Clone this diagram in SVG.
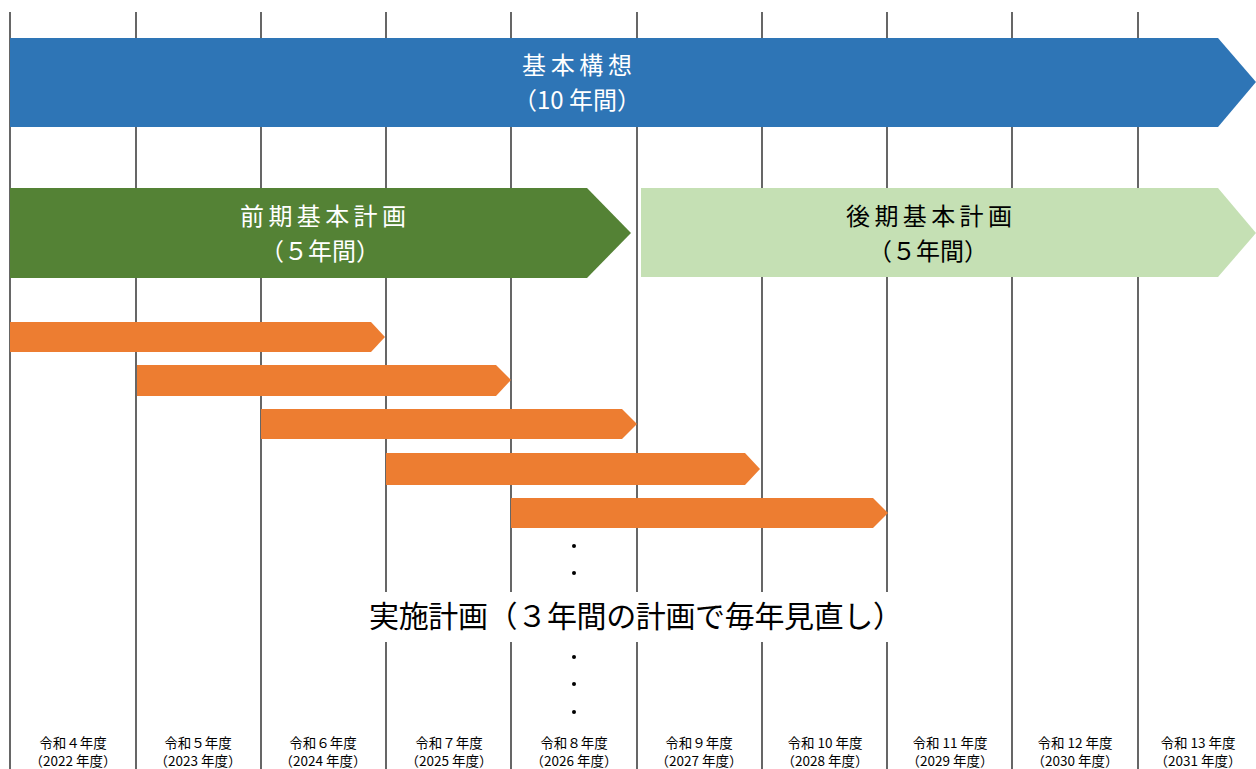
<svg xmlns="http://www.w3.org/2000/svg" width="1256" height="769" viewBox="0 0 1256 769">
<style>
.grid line{stroke:#000;stroke-width:1.2}
.t{font-family:"Noto Sans CJK JP","Noto Sans",sans-serif;text-anchor:middle}
.big{font-size:24px}
.mid{font-size:30px;fill:#000}
.lab{font-size:13.5px;fill:#000}
.w{fill:#fff}
.k{fill:#000}
.orange{fill:#ED7D31}
</style>
<rect width="1256" height="769" fill="#fff"/>
<g id="grid" class="grid">
<line x1="10" y1="12" x2="10" y2="769"/>
<line x1="136" y1="12" x2="136" y2="769"/>
<line x1="261" y1="12" x2="261" y2="769"/>
<line x1="386" y1="12" x2="386" y2="769"/>
<line x1="511" y1="12" x2="511" y2="769"/>
<line x1="637" y1="12" x2="637" y2="769"/>
<line x1="762" y1="12" x2="762" y2="769"/>
<line x1="887" y1="12" x2="887" y2="769"/>
<line x1="1012" y1="12" x2="1012" y2="769"/>
<line x1="1138" y1="12" x2="1138" y2="769"/>
</g>
<g id="connectors"></g>
<g id="kihon-koso">
<polygon points="10,38 1218,38 1256,82 1218,127 10,127" fill="#2E75B6"/>
<text class="t big w" x="577" y="74" textLength="110" lengthAdjust="spacing">基本構想</text>
<text class="t big w" x="577" y="109">（10 年間）</text>
</g>
<g id="zenki">
<polygon points="10,188 587,188 631,233 587,278 10,278" fill="#548235"/>
<text class="t big w" x="323" y="225" textLength="166" lengthAdjust="spacing">前期基本計画</text>
<text class="t big w" x="320" y="260">（５年間）</text>
</g>
<g id="koki">
<polygon points="641,188 1218,188 1256,233 1218,277 641,277" fill="#C5E0B4"/>
<text class="t big k" x="929" y="225" textLength="166" lengthAdjust="spacing">後期基本計画</text>
<text class="t big k" x="928" y="260">（５年間）</text>
</g>
<g id="jisshi-1"><polygon class="orange" points="10,322 371,322 385,337 371,352 10,352"/></g>
<g id="jisshi-2"><polygon class="orange" points="137,365 496,365 511,380 496,396 137,396"/></g>
<g id="jisshi-3"><polygon class="orange" points="261,409 622,409 637,424 622,439 261,439"/></g>
<g id="jisshi-4"><polygon class="orange" points="386,453 745,453 760,469 745,485 386,485"/></g>
<g id="jisshi-5"><polygon class="orange" points="511,498 873,498 888,513 873,528 511,528"/></g>
<g id="dots" fill="#000">
<circle cx="574" cy="546" r="2"/>
<circle cx="574" cy="573" r="2"/>
<circle cx="574" cy="657" r="2"/>
<circle cx="574" cy="684" r="2"/>
<circle cx="574" cy="712" r="2"/>
</g>
<g id="jisshi-label">
<rect x="362" y="592" width="546" height="50" fill="#fff"/>
<text class="t mid" x="636" y="627" textLength="534" lengthAdjust="spacing">実施計画（３年間の計画で毎年見直し）</text>
</g>
<g id="years">
<text class="t lab" x="73" y="748">令和４年度</text><text class="t lab" x="73" y="766">（2022 年度）</text>
<text class="t lab" x="198" y="748">令和５年度</text><text class="t lab" x="198" y="766">（2023 年度）</text>
<text class="t lab" x="323" y="748">令和６年度</text><text class="t lab" x="323" y="766">（2024 年度）</text>
<text class="t lab" x="449" y="748">令和７年度</text><text class="t lab" x="449" y="766">（2025 年度）</text>
<text class="t lab" x="574" y="748">令和８年度</text><text class="t lab" x="574" y="766">（2026 年度）</text>
<text class="t lab" x="699" y="748">令和９年度</text><text class="t lab" x="699" y="766">（2027 年度）</text>
<text class="t lab" x="825" y="748">令和 10 年度</text><text class="t lab" x="825" y="766">（2028 年度）</text>
<text class="t lab" x="950" y="748">令和 11 年度</text><text class="t lab" x="950" y="766">（2029 年度）</text>
<text class="t lab" x="1075" y="748">令和 12 年度</text><text class="t lab" x="1075" y="766">（2030 年度）</text>
<text class="t lab" x="1198" y="748">令和 13 年度</text><text class="t lab" x="1198" y="766">（2031 年度）</text>
</g>
</svg>
